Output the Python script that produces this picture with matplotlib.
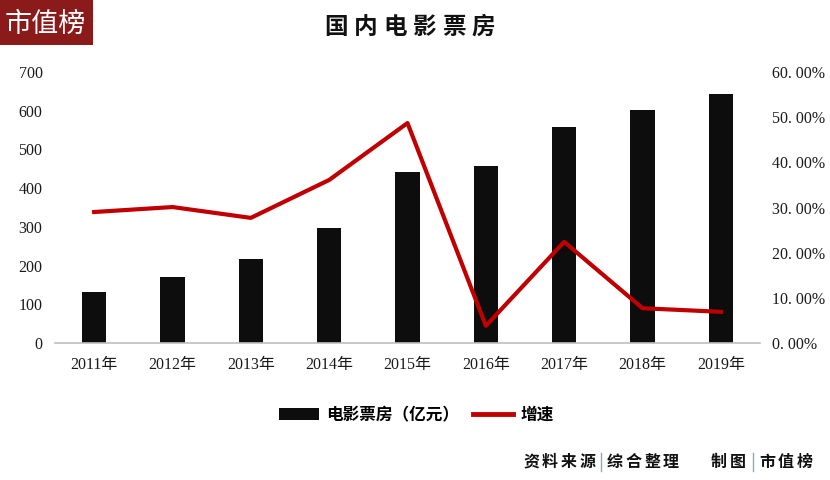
import matplotlib
matplotlib.use("Agg")
import matplotlib.pyplot as plt
from matplotlib.ticker import FuncFormatter
from matplotlib.patches import Rectangle
from matplotlib.lines import Line2D

years = ["2011年", "2012年", "2013年", "2014年", "2015年", "2016年", "2017年", "2018年", "2019年"]
box_office = [131, 171, 218, 296, 441, 457, 559, 603, 643]
growth = [29.0, 30.1, 27.7, 36.1, 48.7, 3.8, 22.4, 7.7, 6.9]

title = "国内电影票房"
legend_labels = ["电影票房（亿元）", "增速"]
footer_left = ["资料来源", "综合整理"]
footer_right = ["制图", "市值榜"]

CJK = ["Noto Sans CJK SC", "DejaVu Sans"]
SERIF = ["Liberation Serif", "Noto Sans CJK SC"]

W, H = 830, 480
fig = plt.figure(figsize=(8.3, 4.8), dpi=100)
ax = fig.add_axes([55/W, 1-343/H, 705/W, 271/H])
x = list(range(len(years)))
ax.bar(x, box_office, width=0.31, color="#0d0d0d", zorder=2)
ax.set_xlim(-0.5, len(years)-0.5)
ax.set_ylim(0, 700)
ax.set_yticks(range(0, 701, 100))
for s in ["top", "right", "left"]:
    ax.spines[s].set_visible(False)
ax.spines["bottom"].set_color("#bfbfbf")
ax.spines["bottom"].set_linewidth(1.2)
ax.tick_params(axis="both", length=0, labelsize=11.5)
ax.tick_params(axis="y", pad=9)
ax.tick_params(axis="x", pad=10)
ax.set_xticks(x)
ax.set_xticklabels(years)
for lab in ax.get_xticklabels() + ax.get_yticklabels():
    lab.set_family(SERIF)
    lab.set_color("#1a1a1a")

ax2 = ax.twinx()
ax2.plot(x, growth, color="#c00000", linewidth=3, zorder=3)
ax2.set_ylim(0, 60)
ax2.set_yticks(range(0, 61, 10))
ax2.yaxis.set_major_formatter(FuncFormatter(lambda v, p: f"{v:.2f}%".replace(".", ". ")))
for s in ["top", "right", "left", "bottom"]:
    ax2.spines[s].set_visible(False)
ax2.tick_params(axis="y", length=0, labelsize=11.5, pad=8.5)
for lab in ax2.get_yticklabels():
    lab.set_family(SERIF)
    lab.set_color("#1a1a1a")

# logo
fig.patches.append(Rectangle((0, 1-45/H), 93/W, 45/H, transform=fig.transFigure,
                             facecolor="#8b1a1a", edgecolor="none"))
fig.text(45/W, 1-24/H, "市值榜", color="white", fontsize=19.5, family=CJK,
         ha="center", va="center")

# spaced characters
def spaced(text, x0, y, pitch, size, weight="bold"):
    for i, ch in enumerate(text):
        fig.text((x0 + pitch*i)/W, 1-y/H, ch, fontsize=size, family=CJK,
                 fontweight=weight, ha="center", va="center", color="#111111")

spaced(title, 336, 27, 29.5, 17)

handles = [Rectangle((0, 0), 1, 1, facecolor="#0d0d0d"),
           Line2D([0], [0], color="#c00000", linewidth=3.5)]
leg = fig.legend(handles, legend_labels, loc="center",
                 bbox_to_anchor=(416/W, 1-415/H), ncol=2, frameon=False,
                 prop={"family": CJK, "size": 12, "weight": "bold"}, handlelength=2.4,
                 handleheight=0.7, columnspacing=0.8, handletextpad=0.45)

# footer
spaced(footer_left[0], 531, 462, 18.7, 11.5)
spaced(footer_left[1], 615, 462, 18.7, 11.5)
spaced(footer_right[0], 719, 462, 18.7, 11.5)
spaced(footer_right[1], 767, 462, 18.7, 11.5)
for sx in (601, 753):
    fig.add_artist(Line2D([sx/W, sx/W], [1-453/H, 1-471/H], color="#8fa8c0", linewidth=1))

fig.savefig("out.png", dpi=100)
